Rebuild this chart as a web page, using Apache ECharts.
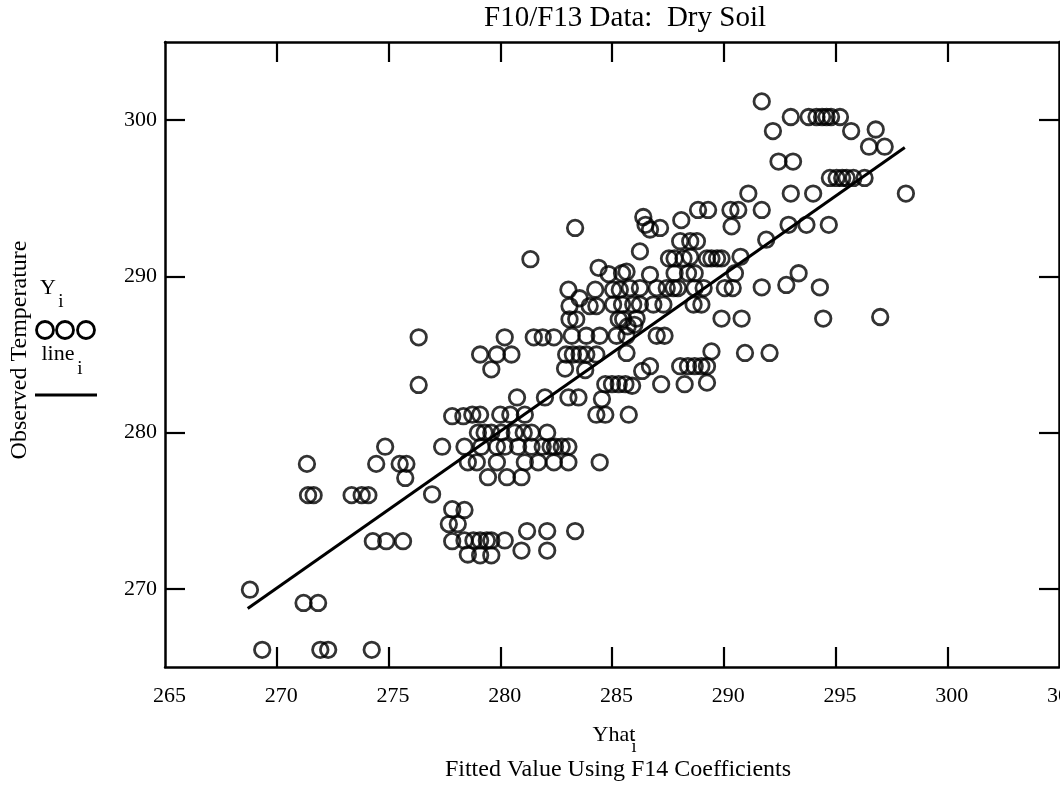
<!DOCTYPE html>
<html>
<head>
<meta charset="utf-8">
<script src="https://cdn.jsdelivr.net/npm/echarts@6/dist/echarts.min.js"></script>
<style>
html,body{margin:0;padding:0;background:#fff}
#c{width:1060px;height:787px}
</style>
</head>
<body>
<div id="c"></div>
<script>
// ---------------- data ----------------
const chartTitle = 'F10/F13 Data:  Dry Soil';
const xAxisName = 'Yhat';
const xAxisNameSub = 'i';
const xAxisCaption = 'Fitted Value Using F14 Coefficients';
const yAxisName = 'Observed Temperature';
const legendNames = ['Y', 'line'];
const legendSub = 'i';

const xTickLabels = [265, 270, 275, 280, 285, 290, 295, 300, 305];
const xTickMarks = [270, 275, 280, 285, 290, 295, 300];
const yTickLabels = [270, 280, 290, 300];

// fitted values (x) of the observations
const yhat = [
  291.7,
  293.0, 293.8, 294.15, 294.4, 294.6, 294.8, 295.2,
  292.2, 295.7, 296.8,
  296.5, 297.2,
  292.45, 293.1,
  294.75, 295.05, 295.3, 295.5, 295.8, 296.3,
  291.1, 293.0, 294.0, 298.15,
  288.85, 289.3, 290.3, 290.65, 291.7,
  286.4, 286.5, 286.7, 287.15, 288.1, 290.35, 292.9, 293.7, 294.7, 283.35,
  288.05, 288.5, 288.8, 291.9,
  286.25, 281.35, 287.55, 287.8, 288.2, 288.5, 289.25, 289.45, 289.7, 289.9, 290.75,
  284.4, 284.85, 285.45, 285.65, 286.7, 287.8, 288.4, 288.7, 290.5, 293.35,
  283.05, 284.25, 285.05, 285.35, 285.8, 286.25, 287.0, 287.45, 287.75, 287.95, 288.7, 289.1, 290.05, 290.4, 291.7, 292.8, 294.3,
  283.55,
  283.1, 284.0, 284.3, 285.05, 285.45, 285.95, 286.25, 286.85, 287.3, 288.65, 289.0,
  283.1, 283.4, 285.3, 285.5, 286.1, 289.9, 290.8, 294.45, 297.0,
  285.7, 286.0,
  276.35, 280.2, 281.5, 281.9, 282.4, 283.2, 283.85, 284.45, 285.2, 285.65, 287.0, 287.35,
  279.1, 279.85, 280.5, 282.95, 283.25, 283.55, 283.85, 284.3, 285.65, 289.45, 290.95, 292.05,
  279.6, 282.9, 283.8, 286.35, 286.7, 288.05, 288.4, 288.7, 289.0, 289.25,
  276.35, 284.7, 285.0, 285.3, 285.6, 285.9, 287.2, 288.25, 289.25,
  280.75, 282.0, 283.05, 283.5, 284.55,
  277.85, 278.35, 278.75, 279.1, 280.0, 280.45, 281.1, 284.3, 284.7, 285.75,
  279.0, 279.3, 279.6, 280.05, 280.65, 281.05, 281.4, 282.1,
  274.85, 277.4, 278.4, 279.15, 279.85, 280.2, 280.8, 281.4, 281.9, 282.25, 282.45, 282.75, 283.05,
  271.35, 274.45, 275.5, 275.8, 278.55, 278.95, 279.85, 281.1, 281.7, 282.4, 283.05, 284.45,
  275.75, 279.45, 280.3, 280.95,
  271.4, 271.65, 273.35, 273.8, 274.1, 276.95,
  277.85, 278.4,
  277.7, 278.1,
  281.2, 282.1, 283.35,
  274.3, 274.9, 275.65, 277.85, 278.4, 278.8, 279.1, 279.4, 279.6, 280.2,
  280.95, 282.1, 278.55, 279.1, 279.6,
  268.8,
  271.2, 271.85,
  269.35, 271.95, 272.3, 274.25
];

// observed temperatures (y)
const observed = [
  301.2,
  300.2, 300.2, 300.2, 300.2, 300.2, 300.2, 300.2,
  299.3, 299.3, 299.4,
  298.3, 298.3,
  297.35, 297.35,
  296.3, 296.3, 296.3, 296.3, 296.3, 296.3,
  295.3, 295.3, 295.3, 295.3,
  294.25, 294.25, 294.25, 294.25, 294.25,
  293.8, 293.3, 293.0, 293.1, 293.6, 293.2, 293.3, 293.3, 293.3, 293.1,
  292.25, 292.25, 292.25, 292.35,
  291.6, 291.1, 291.15, 291.15, 291.15, 291.25, 291.15, 291.15, 291.15, 291.15, 291.25,
  290.55, 290.15, 290.2, 290.3, 290.1, 290.2, 290.2, 290.2, 290.2, 290.2,
  289.15, 289.15, 289.15, 289.15, 289.25, 289.25, 289.25, 289.25, 289.25, 289.25, 289.25, 289.25, 289.25, 289.25, 289.3, 289.45, 289.3,
  288.6,
  288.1, 288.1, 288.1, 288.2, 288.2, 288.2, 288.2, 288.2, 288.2, 288.2, 288.2,
  287.25, 287.25, 287.25, 287.25, 287.3, 287.3, 287.3, 287.3, 287.4,
  286.8, 286.9,
  286.1, 286.1, 286.1, 286.1, 286.1, 286.2, 286.2, 286.2, 286.2, 286.2, 286.2, 286.2,
  285.0, 285.0, 285.0, 285.0, 285.0, 285.0, 285.0, 285.0, 285.1, 285.2, 285.1, 285.1,
  284.05, 284.1, 284.0, 283.95, 284.25, 284.25, 284.25, 284.25, 284.25, 284.25,
  283.05, 283.1, 283.1, 283.1, 283.1, 283.0, 283.1, 283.1, 283.2,
  282.25, 282.25, 282.25, 282.25, 282.15,
  281.05, 281.05, 281.15, 281.15, 281.15, 281.15, 281.15, 281.15, 281.15, 281.15,
  280.0, 280.0, 280.0, 280.0, 280.0, 280.0, 280.0, 280.0,
  279.1, 279.1, 279.1, 279.1, 279.1, 279.1, 279.1, 279.1, 279.1, 279.1, 279.1, 279.1, 279.1,
  278.0, 278.0, 278.0, 278.0, 278.1, 278.1, 278.1, 278.1, 278.1, 278.1, 278.1, 278.1,
  277.1, 277.15, 277.15, 277.15,
  276.0, 276.0, 276.0, 276.0, 276.0, 276.05,
  275.1, 275.05,
  274.15, 274.15,
  273.7, 273.7, 273.7,
  273.05, 273.05, 273.05, 273.05, 273.1, 273.1, 273.1, 273.1, 273.1, 273.1,
  272.45, 272.45, 272.2, 272.15, 272.15,
  269.95,
  269.1, 269.1,
  266.1, 266.1, 266.1, 266.1
];

// fitted line
const lineYhat = [268.7, 298.1];
const lineValue = [268.75, 298.25];

// ---------------- chart ----------------
const FONT = '"Liberation Serif", "Times New Roman", serif';
const points = yhat.map((x, i) => [x, observed[i]]);
const linePts = lineYhat.map((x, i) => [x, lineValue[i]]);

const chart = echarts.init(document.getElementById('c'), null, {renderer: 'canvas'});

const axisLineStyle = {show: true, onZero: false, lineStyle: {color: '#000', width: 2.5}};
const tickStyle = {show: true, inside: true, length: 20, lineStyle: {color: '#000', width: 2.2}};

const option = {
  animation: false,
  backgroundColor: '#fff',
  grid: {left: 165, right: 1, top: 42, bottom: 120, containLabel: false, outerBoundsMode: 'none'},
  xAxis: [
    {
      type: 'value', min: 265, max: 305, interval: 5, position: 'bottom',
      axisLine: axisLineStyle,
      axisTick: Object.assign({}, tickStyle, {customValues: xTickMarks}),
      axisLabel: {
        customValues: xTickLabels, color: '#000', fontFamily: FONT, fontSize: 22,
        margin: 18, padding: [0, 0, 0, 9], showMinLabel: true, showMaxLabel: true
      },
      splitLine: {show: false}
    },
    {
      type: 'value', min: 265, max: 305, interval: 5, position: 'top',
      axisLine: axisLineStyle,
      axisTick: Object.assign({}, tickStyle, {customValues: xTickMarks}),
      axisLabel: {show: false},
      splitLine: {show: false}
    }
  ],
  yAxis: [
    {
      type: 'value', min: 265, max: 305, position: 'left',
      axisLine: axisLineStyle,
      axisTick: Object.assign({}, tickStyle, {customValues: yTickLabels}),
      axisLabel: {
        customValues: yTickLabels, color: '#000', fontFamily: FONT, fontSize: 22,
        margin: 8, padding: [10, 0, 0, 0]
      },
      splitLine: {show: false}
    },
    {
      type: 'value', min: 265, max: 305, position: 'right',
      axisLine: axisLineStyle,
      axisTick: Object.assign({}, tickStyle, {customValues: yTickLabels}),
      axisLabel: {show: false},
      splitLine: {show: false}
    }
  ],
  series: [
    {
      type: 'scatter', xAxisIndex: 0, yAxisIndex: 0, data: points,
      symbol: 'circle', symbolSize: 15.5, silent: true,
      itemStyle: {color: 'rgba(0,0,0,0)', borderColor: '#000', borderWidth: 2.8},
      z: 3
    },
    {
      type: 'line', xAxisIndex: 0, yAxisIndex: 0, data: linePts,
      symbol: 'none', silent: true,
      lineStyle: {color: '#000', width: 3}, z: 4
    }
  ],
  graphic: [
    {type: 'text', x: 766, y: 18, style: {text: chartTitle, font: '29px ' + FONT, fill: '#000', textAlign: 'right', textVerticalAlign: 'middle'}},
    {type: 'text', x: 614, y: 735, style: {text: xAxisName, font: '22px ' + FONT, fill: '#000', textAlign: 'center', textVerticalAlign: 'middle'}},
    {type: 'text', x: 634, y: 747, style: {text: xAxisNameSub, font: '18px ' + FONT, fill: '#000', textAlign: 'center', textVerticalAlign: 'middle'}},
    {type: 'text', x: 618, y: 770, style: {text: xAxisCaption, font: '24px ' + FONT, fill: '#000', textAlign: 'center', textVerticalAlign: 'middle'}},
    {type: 'text', x: 20, y: 350, rotation: Math.PI / 2, style: {text: yAxisName, font: '24px ' + FONT, fill: '#000', textAlign: 'center', textVerticalAlign: 'middle'}},
    {type: 'text', x: 48, y: 288, style: {text: legendNames[0], font: '22px ' + FONT, fill: '#000', textAlign: 'center', textVerticalAlign: 'middle'}},
    {type: 'text', x: 61, y: 302, style: {text: legendSub, font: '19px ' + FONT, fill: '#000', textAlign: 'center', textVerticalAlign: 'middle'}},
    {type: 'circle', shape: {cx: 45, cy: 330, r: 8.5}, style: {fill: 'none', stroke: '#000', lineWidth: 2.8}},
    {type: 'circle', shape: {cx: 65, cy: 330, r: 8.5}, style: {fill: 'none', stroke: '#000', lineWidth: 2.8}},
    {type: 'circle', shape: {cx: 86, cy: 330, r: 8.5}, style: {fill: 'none', stroke: '#000', lineWidth: 2.8}},
    {type: 'text', x: 58, y: 354, style: {text: legendNames[1], font: '22px ' + FONT, fill: '#000', textAlign: 'center', textVerticalAlign: 'middle'}},
    {type: 'text', x: 80, y: 369, style: {text: legendSub, font: '19px ' + FONT, fill: '#000', textAlign: 'center', textVerticalAlign: 'middle'}},
    {type: 'line', shape: {x1: 35, y1: 395, x2: 97, y2: 395}, style: {stroke: '#000', lineWidth: 3}}
  ]
};
chart.setOption(option);
</script>
</body>
</html>
